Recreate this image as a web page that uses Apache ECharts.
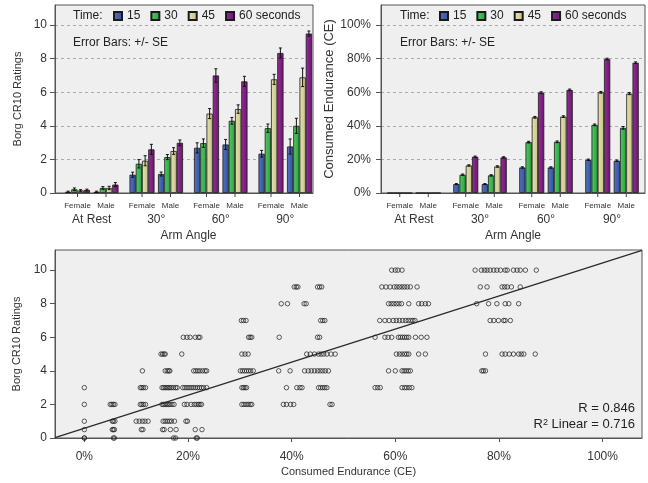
<!DOCTYPE html>
<html>
<head>
<meta charset="utf-8">
<script src="https://cdn.jsdelivr.net/npm/echarts@6/dist/echarts.min.js"></script>
<style>
html, body { margin: 0; background: #fff; }
#main { width: 648px; height: 483px; }
</style>
</head>
<body>
<div id="main"></div>
<script>
// categories
var angles = ['At Rest', '30°', '60°', '90°'];
var genders = ['Female', 'Male'];
var timeNames = ['15', '30', '45', '60 seconds'];
var timeColors = [['#5674c2', '#31509e'], ['#52cb62', '#2aa23e'], ['#e6e2b0', '#c8c286'], ['#952f96', '#6c1470']];
var borgTicks = [0, 2, 4, 6, 8, 10];
var ceTicks = [0, 20, 40, 60, 80, 100];

// Borg CR10 means (rows = time, cols = angle)
var borgFemale = [[0.07, 1.09, 2.69, 2.34], [0.22, 1.74, 2.97, 3.86], [0.15, 1.92, 4.73, 6.77], [0.18, 2.6, 7.0, 8.34]];
var borgMale = [[0.07, 1.13, 2.89, 2.77], [0.3, 2.14, 4.3, 4.0], [0.3, 2.5, 5.0, 6.89], [0.5, 2.99, 6.65, 9.5]];
var borgFemaleSE = [[0.04, 0.15, 0.3, 0.2], [0.08, 0.25, 0.25, 0.25], [0.05, 0.3, 0.3, 0.3], [0.05, 0.3, 0.4, 0.3]];
var borgMaleSE = [[0.04, 0.12, 0.3, 0.45], [0.08, 0.15, 0.2, 0.45], [0.1, 0.2, 0.25, 0.55], [0.12, 0.17, 0.3, 0.15]];

// Consumed endurance means in % (rows = time, cols = angle)
var ceFemale = [[0, 5.3, 15.2, 19.8], [0, 10.9, 30.3, 40.6], [0, 16.4, 45.1, 60.0], [0, 21.6, 59.8, 79.8]];
var ceMale = [[0, 5.3, 15.2, 19.2], [0, 10.5, 30.5, 38.8], [0, 15.8, 45.5, 59.2], [0, 21.2, 61.4, 77.6]];
var ceFemaleSE = [[0, 0.3, 0.4, 0.4], [0, 0.4, 0.5, 0.5], [0, 0.4, 0.5, 0.5], [0, 0.4, 0.5, 0.5]];
var ceMaleSE = [[0, 0.3, 0.4, 0.4], [0, 0.4, 0.5, 0.8], [0, 0.4, 0.5, 0.6], [0, 0.4, 0.5, 0.5]];

// scatter: CE (%) of each observation, one list per Borg rating
var borgLevels = [0, 0.5, 1, 2, 3, 4, 5, 6, 7, 8, 9, 10];
var ce0 = [0, 0, 5.6, 5.8, 17.2, 17.6, 21.6, 21.8];
var ce05 = [0, 5.4, 5.6, 5.8, 11.0, 11.3, 15.1, 15.4, 16.6, 17.7, 21.4, 22.7];
var ce1 = [0, 5.4, 5.6, 5.9, 10.0, 10.6, 11.2, 11.7, 12.3, 15.2, 15.6, 16.0, 16.4, 16.8, 17.4, 19.6, 19.9];
var ce2 = [0, 5.0, 5.3, 5.6, 5.9, 10.8, 11.1, 11.4, 11.8, 15.0, 15.3, 15.6, 15.9, 16.2, 16.5, 16.9, 17.3, 19.3, 19.8, 20.6, 21.2, 21.6, 22.0, 22.3, 22.6, 30.4, 30.8, 31.2, 31.6, 32.0, 32.3, 38.4, 39.0, 39.8, 40.4, 47.4, 47.8];
var ce3 = [0, 10.8, 11.1, 11.4, 11.8, 15.0, 15.3, 15.6, 15.9, 16.2, 16.5, 16.8, 17.2, 17.6, 17.9, 19.0, 19.4, 19.8, 20.2, 20.6, 21.0, 21.4, 21.8, 22.2, 22.6, 23.0, 23.6, 30.4, 30.7, 31.0, 31.3, 39.0, 41.0, 41.6, 42.0, 45.2, 45.6, 46.0, 46.4, 46.8, 56.1, 56.6, 57.1, 61.3, 61.8, 62.2, 62.7, 63.2];
var ce4 = [11.2, 15.6, 16.0, 16.3, 16.5, 21.1, 21.5, 21.9, 22.3, 22.8, 23.3, 23.6, 30.1, 30.5, 30.9, 31.3, 31.7, 32.1, 32.6, 37.5, 39.7, 42.5, 43.2, 43.8, 44.4, 45.0, 45.5, 46.0, 46.5, 47.1, 58.7, 60.0, 61.3, 61.7, 62.1, 62.5, 62.9, 76.7, 77.0, 77.4];
var ce5 = [14.8, 15.1, 15.4, 15.6, 18.8, 30.4, 31.0, 31.6, 42.9, 43.6, 44.4, 45.2, 45.7, 46.2, 46.8, 47.6, 48.4, 60.2, 60.8, 61.3, 61.8, 62.2, 62.6, 64.5, 65.8, 77.4, 80.6, 81.2, 82.0, 82.8, 83.8, 84.3, 84.8, 87.0];
var ce6 = [19.1, 19.8, 20.4, 21.4, 22.0, 22.3, 31.7, 32.0, 32.3, 37.6, 45.0, 45.4, 56.1, 58.0, 58.6, 59.3, 60.6, 61.0, 61.4, 61.8, 62.2, 62.6, 63.9, 65.0, 66.1];
var ce7 = [30.3, 30.7, 31.2, 45.6, 46.0, 46.4, 57.0, 58.0, 58.8, 59.6, 60.2, 60.8, 61.4, 62.0, 62.5, 63.0, 63.4, 63.8, 78.3, 79.0, 79.9, 80.9, 81.2, 82.2];
var ce8 = [38.0, 39.2, 42.4, 42.8, 58.7, 59.2, 59.7, 60.2, 60.7, 61.2, 62.6, 64.5, 65.1, 65.8, 66.4, 75.7, 78.0, 79.6, 81.2, 81.9, 83.8];
var ce9 = [40.5, 40.9, 41.2, 45.0, 45.4, 45.8, 57.4, 58.2, 59.0, 59.8, 60.3, 60.8, 61.3, 61.8, 62.3, 62.9, 64.2, 76.4, 77.7, 80.6, 81.1, 81.6, 82.4, 84.1];
var ce10 = [59.3, 60.0, 60.5, 61.3, 75.4, 76.6, 77.2, 77.7, 78.3, 79.0, 79.6, 80.3, 81.2, 81.6, 82.8, 83.5, 84.1, 85.1, 87.2];
var ceByLevel = [ce0, ce05, ce1, ce2, ce3, ce4, ce5, ce6, ce7, ce8, ce9, ce10];

// linear fit (Borg = a + b * CE%)
var fitIntercept = 0.58;
var fitSlope = 0.0985;
var ceRange = [-5.66, 107.6];

var FONT = '"Liberation Sans", Arial, sans-serif';
var BAR_W = 6.25, MID_GAP = 3.5;
var pads = [9, 0];

function slotOffset(slot, pad) {
  var total = pad + 8 * BAR_W + MID_GAP;
  var x = -total / 2 + pad + slot * BAR_W + BAR_W / 2;
  if (slot >= 4) x += MID_GAP;
  return x;
}
function genderOffset(g, pad) {
  var total = pad + 8 * BAR_W + MID_GAP;
  return -total / 2 + pad + g * (4 * BAR_W + MID_GAP) + 2 * BAR_W;
}

function barColor(t) {
  return new echarts.graphic.LinearGradient(0, 0, 1, 0, [
    { offset: 0, color: timeColors[t][0] },
    { offset: 1, color: timeColors[t][1] }
  ]);
}

function spacer(name, w, k) {
  return { type: 'bar', name: name, xAxisIndex: k, yAxisIndex: k, barWidth: w, barGap: '0%', data: [], silent: true };
}

function barSeries(k, female, male, femaleSE, maleSE) {
  var list = [];
  if (pads[k] > 0) list.push(spacer('_pad' + k, pads[k], k));
  [female, male].forEach(function (rows, g) {
    if (g === 1) list.push(spacer('_gap' + k, MID_GAP, k));
    rows.forEach(function (vals, t) {
      list.push({
        type: 'bar', name: timeNames[t], xAxisIndex: k, yAxisIndex: k,
        barWidth: BAR_W, barGap: '0%', data: vals,
        itemStyle: { color: barColor(t), borderColor: '#1a1a1a', borderWidth: 0.8 }
      });
    });
  });

  // error bars
  var errData = [];
  [[female, femaleSE], [male, maleSE]].forEach(function (pair, g) {
    pair[0].forEach(function (vals, t) {
      vals.forEach(function (v, a) { errData.push([a, v, pair[1][t][a], g * 4 + t]); });
    });
  });
  list.push({
    type: 'custom', name: '_err' + k, xAxisIndex: k, yAxisIndex: k, z: 5, silent: true,
    encode: { x: 0, y: 1 },
    data: errData,
    renderItem: function (params, api) {
      var a = api.value(0), m = api.value(1), se = api.value(2), slot = api.value(3);
      if (!se) return;
      var x = api.coord([a, m])[0] + slotOffset(slot, pads[k]);
      var y1 = api.coord([a, m + se])[1];
      var y2 = api.coord([a, m - se])[1];
      var st = { stroke: '#111', lineWidth: 1 };
      return {
        type: 'group', children: [
          { type: 'line', shape: { x1: x, y1: y1, x2: x, y2: y2 }, style: st },
          { type: 'line', shape: { x1: x - 1.5, y1: y1, x2: x + 1.5, y2: y1 }, style: st },
          { type: 'line', shape: { x1: x - 1.5, y1: y2, x2: x + 1.5, y2: y2 }, style: st }
        ]
      };
    }
  });

  // Female / Male sub labels with ticks
  list.push({
    type: 'custom', name: '_grp' + k, xAxisIndex: k, yAxisIndex: k, silent: true,
    encode: { x: 0, y: 1 },
    data: angles.map(function (n, i) { return [i, 0]; }),
    renderItem: function (params, api) {
      var p = api.coord([api.value(0), 0]);
      var kids = [];
      genders.forEach(function (gname, g) {
        var x = p[0] + genderOffset(g, pads[k]);
        kids.push({ type: 'line', shape: { x1: x, y1: p[1], x2: x, y2: p[1] + 4 }, style: { stroke: '#444', lineWidth: 1 } });
        kids.push({ type: 'text', style: { text: gname, x: x, y: p[1] + 13, align: 'center', verticalAlign: 'middle', fontSize: 8, fontFamily: FONT, fill: '#333' } });
      });
      return { type: 'group', children: kids };
    }
  });
  return list;
}

var scatterData = [];
borgLevels.forEach(function (b, i) {
  ceByLevel[i].forEach(function (ce) { scatterData.push([ce, b]); });
});

var gridStyle = { show: true, backgroundColor: '#efefef', borderColor: '#555', borderWidth: 1, outerBoundsMode: 'none', containLabel: false };

function angleAxis(k) {
  return {
    type: 'category', gridIndex: k, data: angles,
    axisLine: { lineStyle: { color: '#555', width: 1 } }, axisTick: { show: false },
    axisLabel: { margin: 21, fontSize: 12, color: '#333', padding: [0, 0, 0, pads[k]] },
    name: 'Arm Angle', nameLocation: 'middle', nameGap: 37,
    nameTextStyle: { fontSize: 12, color: '#333', padding: [0, 0, 0, pads[k]] }
  };
}

function legendFor(left) {
  return {
    left: left, top: 10, padding: 0, data: timeNames, selectedMode: false,
    icon: 'rect', itemWidth: 8, itemHeight: 8, itemGap: 10,
    textStyle: { fontSize: 12, color: '#222', fontFamily: FONT }
  };
}

function valueYAxis(k, max, ticks, fmt, gap, nameText, nameSize, margin, split) {
  return {
    type: 'value', gridIndex: k, min: 0, max: max,
    axisLine: { show: true, onZero: false, lineStyle: { color: '#555' } },
    axisTick: { show: true, length: 5, customValues: ticks, lineStyle: { color: '#555' } },
    axisLabel: { customValues: ticks, formatter: fmt, margin: margin, fontSize: 12, color: '#333' },
    splitLine: { show: split, lineStyle: { color: '#aaa', type: [3, 3] } },
    name: nameText, nameLocation: 'middle', nameGap: gap,
    nameTextStyle: { fontSize: nameSize, color: '#333' }
  };
}

var myChart = echarts.init(document.getElementById('main'));
var option = {
  animation: false,
  textStyle: { fontFamily: FONT },
  grid: [
    Object.assign({ left: 55, top: 5, width: 258, height: 188 }, gridStyle),
    Object.assign({ left: 381, top: 5, width: 264, height: 188 }, gridStyle),
    Object.assign({ left: 55, top: 250, width: 587, height: 188 }, gridStyle)
  ],
  legend: [legendFor(113), legendFor(439)],
  xAxis: [
    angleAxis(0),
    angleAxis(1),
    {
      type: 'value', gridIndex: 2, min: ceRange[0], max: ceRange[1],
      axisLine: { show: true, onZero: false, lineStyle: { color: '#555' } },
      axisTick: { show: true, length: 4, customValues: ceTicks, lineStyle: { color: '#555' } },
      axisLabel: { customValues: ceTicks, formatter: '{value}%', margin: 13, fontSize: 12, color: '#333' },
      splitLine: { show: false },
      name: 'Consumed Endurance (CE)', nameLocation: 'middle', nameGap: 28,
      nameTextStyle: { fontSize: 11, color: '#333' }
    }
  ],
  yAxis: [
    valueYAxis(0, 11.2, borgTicks, '{value}', 32, 'Borg CR10 Ratings', 11, 8, true),
    valueYAxis(1, 112, ceTicks, '{value}%', 44, 'Consumed Endurance (CE)', 13, 10, true),
    valueYAxis(2, 11.2, borgTicks, '{value}', 33, 'Borg CR10 Ratings', 11, 8, false)
  ],
  series: [].concat(
    barSeries(0, borgFemale, borgMale, borgFemaleSE, borgMaleSE),
    barSeries(1, ceFemale, ceMale, ceFemaleSE, ceMaleSE),
    [
      {
        type: 'scatter', name: 'obs', xAxisIndex: 2, yAxisIndex: 2, silent: true,
        symbol: 'circle', symbolSize: 4.5, data: scatterData,
        itemStyle: { color: 'rgba(0,0,0,0)', borderColor: '#1e1e1e', borderWidth: 0.9 }
      },
      {
        type: 'line', name: 'fit', xAxisIndex: 2, yAxisIndex: 2, silent: true,
        symbol: 'none', clip: true,
        data: ceRange.map(function (x) { return [x, fitIntercept + fitSlope * x]; }),
        lineStyle: { color: '#2a2a2a', width: 1.2 }
      }
    ]
  ),
  graphic: [
    { type: 'text', left: 73, top: 10, style: { text: 'Time:', fontSize: 12, fill: '#222', fontFamily: FONT } },
    { type: 'text', left: 73, top: 37, style: { text: 'Error Bars: +/- SE', fontSize: 12, fill: '#222', fontFamily: FONT } },
    { type: 'text', left: 400, top: 10, style: { text: 'Time:', fontSize: 12, fill: '#222', fontFamily: FONT } },
    { type: 'text', left: 400, top: 37, style: { text: 'Error Bars: +/- SE', fontSize: 12, fill: '#222', fontFamily: FONT } },
    { type: 'text', right: 13, top: 402, style: { text: 'R = 0.846', fontSize: 13, fill: '#222', fontFamily: FONT } },
    {
      type: 'text', right: 13, top: 418,
      style: {
        text: '{a|R}{s|2}{a| Linear = 0.716}', fontFamily: FONT, fill: '#222',
        rich: { a: { fontSize: 13, fontFamily: FONT, verticalAlign: 'bottom' }, s: { fontSize: 9, fontFamily: FONT, verticalAlign: 'top' } }
      }
    }
  ]
};
myChart.setOption(option);
</script>
</body>
</html>
